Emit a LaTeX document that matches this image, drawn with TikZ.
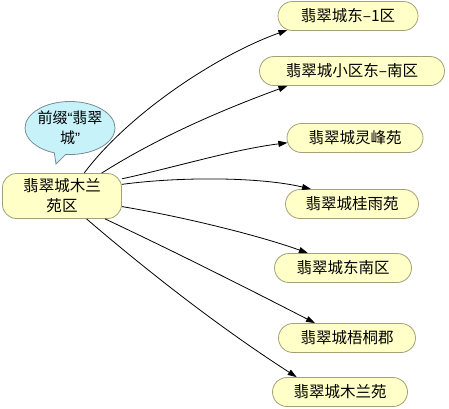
\documentclass[tikz,border=0pt]{standalone}
\usepackage{fontspec}
\setmainfont{Noto Sans CJK SC}
\newfontfamily\qfont{Liberation Sans}
\usetikzlibrary{shapes.misc,shapes.callouts,arrows.meta}
\definecolor{nodefill}{RGB}{255,255,200}
\definecolor{nodeborder}{RGB}{165,160,120}
\definecolor{callfill}{RGB}{200,242,250}
\definecolor{callborder}{RGB}{120,140,150}
\begin{document}
\begin{tikzpicture}[x=1pt,y=-1pt,
  leaf/.style={rounded rectangle, draw=nodeborder, fill=nodefill, line width=0.8pt,
    minimum height=29pt, inner sep=0pt, font=\fontsize{15.5}{18}\selectfont},
  hub/.style={rectangle, rounded corners=14pt, draw=nodeborder, fill=nodefill, line width=0.8pt,
    minimum width=119pt, minimum height=45pt, inner sep=0pt, align=center,
    font=\fontsize{15.5}{20}\selectfont},
  note/.style={ellipse callout, draw=callborder, fill=callfill, line width=0.8pt,
    minimum width=90pt, minimum height=53pt, inner xsep=-1pt, inner ysep=0pt, align=center,
    font=\fontsize{15}{20}\selectfont},
  arr/.style={-{Triangle[length=9pt,width=6pt]}, line width=0.8pt}]
\useasboundingbox (0,0) rectangle (449,408);

\node[hub] (c) at (62,196) {翡翠城木兰\\苑区};
\node[note, callout absolute pointer={(56,164)}] (tip) at (70,128) {前缀{\qfont “}翡翠\\城{\qfont ”}};

\node[leaf, minimum width=140pt] (n1) at (348,16) {翡翠城东–1区};
\node[leaf, minimum width=185pt] (n2) at (352,71) {翡翠城小区东–南区};
\node[leaf, minimum width=136pt] (n3) at (355,138) {翡翠城灵峰苑};
\node[leaf, minimum width=133pt] (n4) at (352,204) {翡翠城桂雨苑};
\node[leaf, minimum width=137pt] (n5) at (343,268) {翡翠城东南区};
\node[leaf, minimum width=137pt] (n6) at (347,338) {翡翠城梧桐郡};
\node[leaf, minimum width=135pt] (n7) at (340,392) {翡翠城木兰苑};

\draw[arr] (c.46) .. controls +(45,-60) and +(-70,25) .. (n1.193);
\draw[arr] (c.30) .. controls +(60,-38) and +(-60,22) .. (n2.193);
\draw[arr] (c.16) .. controls +(55,-12) and +(-55,7) .. (n3.184);
\draw[arr] (c.11) .. controls +(60,-8) and +(-50,-12) .. (n4.160);
\draw[arr] (c.-10) .. controls +(60,10) and +(-50,-18) .. (n5.157);
\draw[arr] (c.-28) .. controls +(70,33) and +(-70,-36) .. (n6.155);
\draw[arr] (c.-43) .. controls +(70,60) and +(-70,-45) .. (n7.161);
\end{tikzpicture}
\end{document}
